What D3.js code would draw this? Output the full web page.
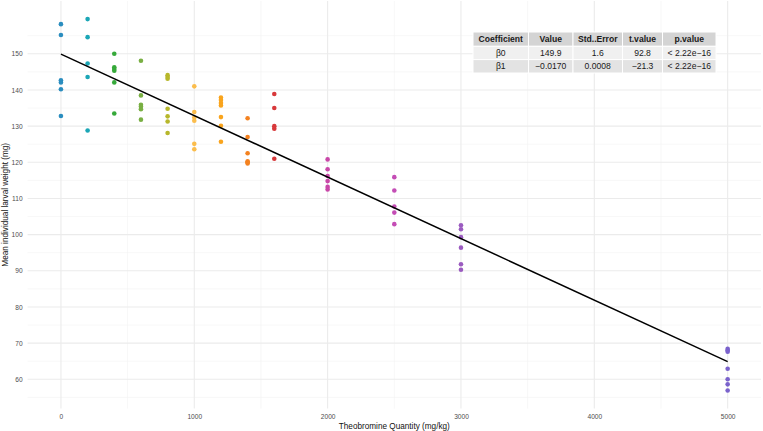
<!DOCTYPE html>
<html>
<head>
<meta charset="utf-8">
<script src="https://cdn.jsdelivr.net/npm/d3@7"></script>
<style>
html,body{margin:0;padding:0;background:#fff;}
svg{display:block;font-family:"Liberation Sans",Arial,Helvetica,sans-serif;}
</style>
</head>
<body>
<svg id="chart" width="763" height="431"></svg>
<script>
// ---- data ----
const doses = [0, 200, 400, 600, 800, 1000, 1200, 1400, 1600, 2000, 2500, 3000, 5000];
const weights = [
  [158.2, 155.2, 142.7, 142.1, 140.2, 132.8],
  [159.6, 154.6, 147.3, 143.6, 128.8],
  [150.0, 146.3, 145.8, 145.3, 142.1, 133.5],
  [148.1, 138.5, 135.9, 135.4, 134.7, 131.8],
  [144.1, 143.6, 143.1, 134.8, 132.7, 131.3, 128.1],
  [141.0, 133.9, 132.4, 131.5, 125.1, 123.6],
  [137.9, 137.2, 136.4, 135.7, 132.5, 130.1, 125.7],
  [132.2, 127.0, 122.5, 120.3, 120.0, 119.7],
  [138.9, 135.0, 130.0, 129.3, 121.0],
  [120.8, 118.1, 116.2, 114.8, 113.2, 112.5],
  [115.9, 112.2, 107.8, 106.1, 102.9],
  [102.6, 101.5, 99.3, 96.4, 91.8, 90.3],
  [68.4, 68.0, 67.6, 62.9, 60.0, 58.6, 56.9]
];
const doseColors = ["#2a8dbf", "#1ba6b6", "#36a93a", "#79af43", "#b7b72b", "#fbbd4c", "#f9a41d",
                    "#f48220", "#d8393b", "#c947a8", "#c44db5", "#9b5bc0", "#7a62cc"];
const intercept = 149.9;
const slope = -0.0170;
const xTicks = [0, 1000, 2000, 3000, 4000, 5000];
const yTicks = [60, 70, 80, 90, 100, 110, 120, 130, 140, 150];
const xTitle = "Theobromine Quantity (mg/kg)";
const yTitle = "Mean individual larval weight (mg)";
const tableHeader = ["Coefficient", "Value", "Std..Error", "t.value", "p.value"];
const tableRows = [
  ["β0", "149.9", "1.6", "92.8", "< 2.22e\u221216"],
  ["β1", "\u22120.0170", "0.0008", "\u221221.3", "< 2.22e\u221216"]
];

// ---- layout ----
const svg = d3.select("#chart");
const panel = {left: 27.6, right: 761, top: 1, bottom: 408.6};
const x = d3.scaleLinear().domain([-250, 5250]).range([panel.left, panel.right]);
const y = d3.scaleLinear().domain([51.9, 164.6]).range([panel.bottom, panel.top]);

const grid = svg.append("g");
// minor grid
const xMinor = d3.range(500, 5000, 1000);
const yMinor = d3.range(55, 160, 10);
grid.selectAll("line.xm").data(xMinor).join("line")
  .attr("x1", d => x(d)).attr("x2", d => x(d)).attr("y1", panel.top).attr("y2", panel.bottom)
  .attr("stroke", "#f1f1f1").attr("stroke-width", 0.6);
grid.selectAll("line.ym").data(yMinor).join("line")
  .attr("y1", d => y(d)).attr("y2", d => y(d)).attr("x1", panel.left).attr("x2", panel.right)
  .attr("stroke", "#f1f1f1").attr("stroke-width", 0.6);
// major grid
grid.selectAll("line.xM").data(xTicks).join("line")
  .attr("x1", d => x(d)).attr("x2", d => x(d)).attr("y1", panel.top).attr("y2", panel.bottom)
  .attr("stroke", "#ebebeb").attr("stroke-width", 1.1);
grid.selectAll("line.yM").data(yTicks).join("line")
  .attr("y1", d => y(d)).attr("y2", d => y(d)).attr("x1", panel.left).attr("x2", panel.right)
  .attr("stroke", "#ebebeb").attr("stroke-width", 1.1);

// axes (labels only)
const xAxis = svg.append("g").attr("transform", `translate(0,${panel.bottom})`)
  .call(d3.axisBottom(x).tickValues(xTicks).tickSize(0).tickPadding(6).tickFormat(d3.format("d")));
const yAxis = svg.append("g").attr("transform", `translate(${panel.left},0)`)
  .call(d3.axisLeft(y).tickValues(yTicks).tickSize(0).tickPadding(5).tickFormat(d3.format("d")));
[xAxis, yAxis].forEach(a => {
  a.select(".domain").remove();
  a.selectAll("text").attr("fill", "#4d4d4d").style("font-size", "6.6px")
    .style("font-family", "'Liberation Sans', Arial, sans-serif");
});

// titles
svg.append("text").attr("x", (panel.left + panel.right) / 2).attr("y", 428.5)
  .attr("text-anchor", "middle").style("font-size", "8.2px").attr("fill", "#111").text(xTitle);
svg.append("text").attr("transform", `translate(7.6,${(panel.top + panel.bottom) / 2}) rotate(-90)`)
  .attr("text-anchor", "middle").style("font-size", "8.2px").attr("fill", "#111").text(yTitle);

// points
const pts = [];
doses.forEach((d, i) => weights[i].forEach(w => pts.push({dose: d, w: w, c: doseColors[i]})));
svg.append("g").selectAll("circle").data(pts).join("circle")
  .attr("cx", d => x(d.dose)).attr("cy", d => y(d.w)).attr("r", 2.3)
  .attr("fill", d => d.c);

// regression line
const xr = d3.extent(doses);
svg.append("line")
  .attr("x1", x(xr[0])).attr("y1", y(intercept + slope * xr[0]))
  .attr("x2", x(xr[1])).attr("y2", y(intercept + slope * xr[1]))
  .attr("stroke", "#000").attr("stroke-width", 1.5);

// table
const colEdges = [473, 528.5, 573, 622.5, 662.5, 716];
const rowEdges = [32, 46.3, 59.6, 73];
const fills = ["#d4d4d4", "#f0f0f0", "#e3e3e3"];
const tg = svg.append("g");
const allRows = [tableHeader].concat(tableRows);
allRows.forEach((row, r) => {
  row.forEach((cell, c) => {
    tg.append("rect").attr("x", colEdges[c]).attr("y", rowEdges[r])
      .attr("width", colEdges[c + 1] - colEdges[c]).attr("height", rowEdges[r + 1] - rowEdges[r])
      .attr("fill", fills[r]).attr("stroke", "#fff").attr("stroke-width", 1);
    tg.append("text").attr("x", (colEdges[c] + colEdges[c + 1]) / 2)
      .attr("y", (rowEdges[r] + rowEdges[r + 1]) / 2 + 3.1)
      .attr("text-anchor", "middle")
      .style("font-size", "8.6px")
      .style("font-weight", r === 0 ? "bold" : "normal")
      .attr("fill", "#1a1a1a").text(cell);
  });
});
</script>
</body>
</html>
